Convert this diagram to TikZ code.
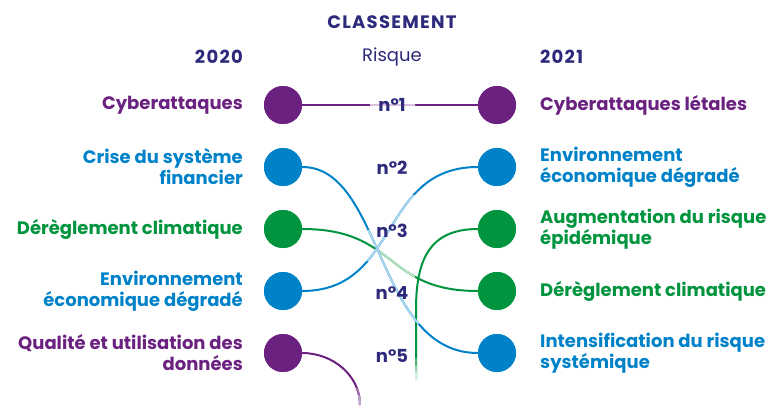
\documentclass[tikz,border=0pt]{standalone}
\usepackage{fontspec}
\setmainfont{Poppins}
\definecolor{cpur}{HTML}{6B2180}
\definecolor{cblu}{HTML}{0082C9}
\definecolor{cgrn}{HTML}{00943E}
\definecolor{cnav}{HTML}{2E2A7B}
\definecolor{lpur}{HTML}{D8C0DF}
\definecolor{lblu}{HTML}{A9D6EE}
\definecolor{lgrn}{HTML}{B9E2C5}
\begin{document}
\begin{tikzpicture}[x=1pt,y=-1pt,
  dot/.style={circle,minimum size=38pt,inner sep=0pt,fill=#1},
  labl/.style={font=\bfseries\fontsize{18}{21}\selectfont,text=#1,inner sep=0pt,anchor=east,align=right},
  labr/.style={font=\bfseries\fontsize{18}{21}\selectfont,text=#1,inner sep=0pt,anchor=west,align=left},
  rank/.style={font=\bfseries\fontsize{18}{20}\selectfont,text=cnav,inner sep=0pt},
  head/.style={font=\bfseries\fontsize{18}{20}\selectfont\addfontfeatures{LetterSpace=7},text=cnav,inner sep=0pt},
  conn/.style={line width=2pt,#1}]
\useasboundingbox (0,0) rectangle (771,405);
% nodes
\node[dot=cpur] (L1) at (283,105) {};
\node[dot=cblu] (L2) at (283,167) {};
\node[dot=cgrn] (L3) at (283,229) {};
\node[dot=cblu] (L4) at (283,291) {};
\node[dot=cpur] (L5) at (283,353) {};
\node[dot=cpur] (R1) at (497,105) {};
\node[dot=cblu] (R2) at (497,167) {};
\node[dot=cgrn] (R3) at (497,229) {};
\node[dot=cgrn] (R4) at (497,291) {};
\node[dot=cblu] (R5) at (497,353) {};
\coordinate (G3end) at (416,379);
\coordinate (P5end) at (360,405);
% connectors
\draw[conn=cpur] (L1.east) -- (R1.west);
\begin{scope}\clip (370,0) rectangle (415,405);
\draw[conn=lpur] (L1.east) -- (R1.west);\end{scope}
% green vertical from R3
\draw[conn=cgrn] (R3.west) .. controls +(-50,0) and (416,262) .. (416,310) -- (G3end);
\begin{scope}\clip (0,358) rectangle (771,405);
\draw[conn=cgrn!70!white] (416,310) -- (G3end);\end{scope}
\begin{scope}\clip (0,366) rectangle (771,405);
\draw[conn=cgrn!40!white] (416,310) -- (G3end);\end{scope}
\begin{scope}\clip (0,372) rectangle (771,405);
\draw[conn=cgrn!18!white] (416,310) -- (G3end);\end{scope}
% green L3 -> R4
\draw[conn=cgrn] (L3.east) .. controls +(96,0) and +(-94,0) .. (R4.west);
\begin{scope}\clip (376,0) rectangle (415,405);
\draw[conn=lgrn] (L3.east) .. controls +(96,0) and +(-94,0) .. (R4.west);\end{scope}
% blue L2 -> R5
\draw[conn=cblu] (L2.east) .. controls +(81,0) and +(-102,0) .. (R5.west);
\begin{scope}\clip (0,230) rectangle (771,323);
\draw[conn=lblu] (L2.east) .. controls +(81,0) and +(-102,0) .. (R5.west);\end{scope}
% blue L4 -> R2
\draw[conn=cblu] (L4.east) .. controls +(98,0) and +(-99,0) .. (R2.west);
\begin{scope}\clip (0,195) rectangle (771,260);
\draw[conn=lblu] (L4.east) .. controls +(98,0) and +(-99,0) .. (R2.west);\end{scope}
% purple L5 down
\draw[conn=cpur] (L5.east) .. controls +(30,0) and +(0,-30) .. (P5end);
\begin{scope}\clip (0,388) rectangle (771,405);
\draw[conn=cpur!65!white] (L5.east) .. controls +(30,0) and +(0,-30) .. (P5end);\end{scope}
\begin{scope}\clip (0,396) rectangle (771,405);
\draw[conn=cpur!40!white] (L5.east) .. controls +(30,0) and +(0,-30) .. (P5end);\end{scope}
% redraw dots on top
\foreach \n/\c in {L1/cpur,L2/cblu,L3/cgrn,L4/cblu,L5/cpur,R1/cpur,R2/cblu,R3/cgrn,R4/cgrn,R5/cblu}
  \fill[\c] (\n) circle (19pt);
% headers
\node[head] (title) at (392,22) {CLASSEMENT};
\node[head,anchor=east] (y20) at (243,57) {2020};
\node[font=\fontsize{18}{20}\selectfont,text=cnav,inner sep=0pt] (risk) at (392,57) {Risque};
\node[head,anchor=west] (y21) at (540,57) {2021};
% ranks
\node[rank] (n1) at (392,105) {n°1};
\node[rank] (n2) at (392,168) {n°2};
\node[rank] (n3) at (392,231) {n°3};
\node[rank] (n4) at (392,293) {n°4};
\node[rank] (n5) at (392,356) {n°5};
% left labels
\node[labl=cpur] (tl1) at (243,105) {Cyberattaques};
\node[labl=cblu] (tl2) at (243,167) {Crise du système\\financier};
\node[labl=cgrn] (tl3) at (243,229) {Dérèglement climatique};
\node[labl=cblu] (tl4) at (243,291) {Environnement\\économique dégradé};
\node[labl=cpur] (tl5) at (243,353) {Qualité et utilisation des\\données};
% right labels
\node[labr=cpur] (tr1) at (540,105) {Cyberattaques létales};
\node[labr=cblu] (tr2) at (540,167) {Environnement\\économique dégradé};
\node[labr=cgrn] (tr3) at (540,229) {Augmentation du risque\\épidémique};
\node[labr=cgrn] (tr4) at (540,291) {Dérèglement climatique};
\node[labr=cblu] (tr5) at (540,353) {Intensification du risque\\systémique};
\end{tikzpicture}
\end{document}
